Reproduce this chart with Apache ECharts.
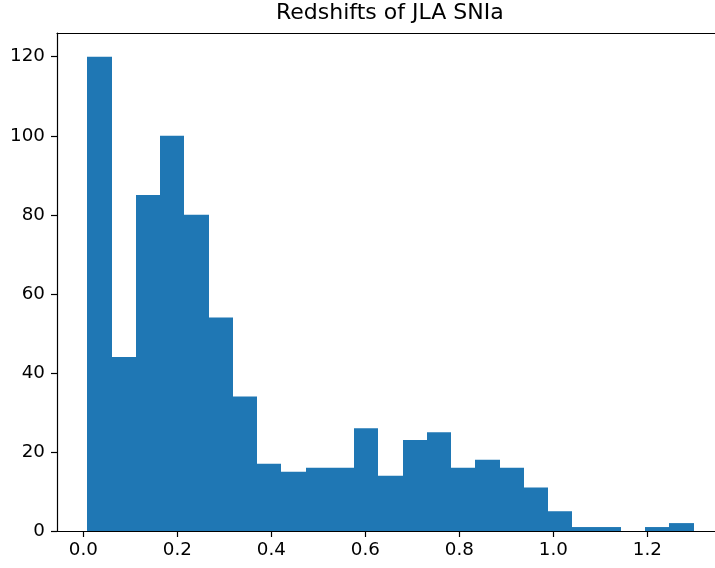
<!DOCTYPE html>
<html>
<head>
<meta charset="utf-8">
<script src="https://cdn.jsdelivr.net/npm/echarts@6/dist/echarts.min.js"></script>
<style>
html,body{margin:0;padding:0;background:#fff;}
#chart{width:715px;height:568px;}
</style>
</head>
<body>
<div id="chart"></div>
<script>
// Data (25 equal-width bins)
const titleText = 'Redshifts of JLA SNIa';
const zMin = 0.0085;          // left edge of first bin
const zMax = 1.2987;          // right edge of last bin
const counts = [120, 44, 85, 100, 80, 54, 34, 17, 15, 16, 16, 26, 14, 23, 25, 16, 18, 16, 11, 5, 1, 1, 0, 1, 2];
const xTicks = [0.0, 0.2, 0.4, 0.6, 0.8, 1.0, 1.2];
const yTicks = [0, 20, 40, 60, 80, 100, 120];
const xRange = [-0.0560, 1.3440];
const yRange = [0, 126];

// Bin edges as a histogram defines them (equal-width bins between zMin and zMax)
const nBins = counts.length;
const binData = counts.map((c, i) => {
  const w = (zMax - zMin) / nBins;
  return [zMin + i * w, zMin + (i + 1) * w, c];
});

const FONT = 'DejaVu Sans';
const chart = echarts.init(document.getElementById('chart'), null, {renderer: 'canvas'});
chart.setOption({
  animation: false,
  backgroundColor: '#ffffff',
  title: {
    text: titleText,
    left: 276,
    top: 2,
    padding: 0,
    textStyle: {fontFamily: FONT, fontSize: 22, fontWeight: 'normal', color: '#000'}
  },
  grid: {
    left: 57, top: 33, right: 0, bottom: 37,
    show: false
  },
  xAxis: [{
    type: 'value',
    position: 'bottom',
    min: xRange[0], max: xRange[1],
    splitLine: {show: false},
    axisLine: {show: true, onZero: false, lineStyle: {color: '#000', width: 1.2}},
    axisTick: {show: true, length: 6, lineStyle: {color: '#000', width: 1.2}, customValues: xTicks},
    axisLabel: {
      show: true, margin: 10, color: '#000', fontFamily: FONT, fontSize: 18.3,
      customValues: xTicks,
      formatter: v => Number(v).toFixed(1)
    }
  }, {
    type: 'value',
    position: 'top',
    min: xRange[0], max: xRange[1],
    splitLine: {show: false},
    axisLine: {show: true, onZero: false, lineStyle: {color: '#000', width: 1.2}},
    axisTick: {show: false},
    axisLabel: {show: false}
  }],
  yAxis: {
    type: 'value',
    min: yRange[0], max: yRange[1],
    splitLine: {show: false},
    axisLine: {show: true, onZero: false, lineStyle: {color: '#000', width: 1.2}},
    axisTick: {show: true, length: 6, lineStyle: {color: '#000', width: 1.2}, customValues: yTicks},
    axisLabel: {
      show: true, margin: 12, color: '#000', fontFamily: FONT, fontSize: 18.3,
      customValues: yTicks,
      formatter: v => String(Math.round(v))
    }
  },
  series: [{
    type: 'custom',
    xAxisIndex: 0,
    data: binData,
    encode: {x: [0, 1], y: 2},
    renderItem: function (params, api) {
      const p0 = api.coord([api.value(0), api.value(2)]);
      const p1 = api.coord([api.value(1), 0]);
      const x0 = Math.round(p0[0]);
      const x1 = Math.round(p1[0]);
      return {
        type: 'rect',
        shape: {x: x0, y: p0[1], width: x1 - x0, height: p1[1] - p0[1]},
        style: {fill: '#1f77b4'},
        emphasisDisabled: true
      };
    }
  }]
});
</script>
</body>
</html>
